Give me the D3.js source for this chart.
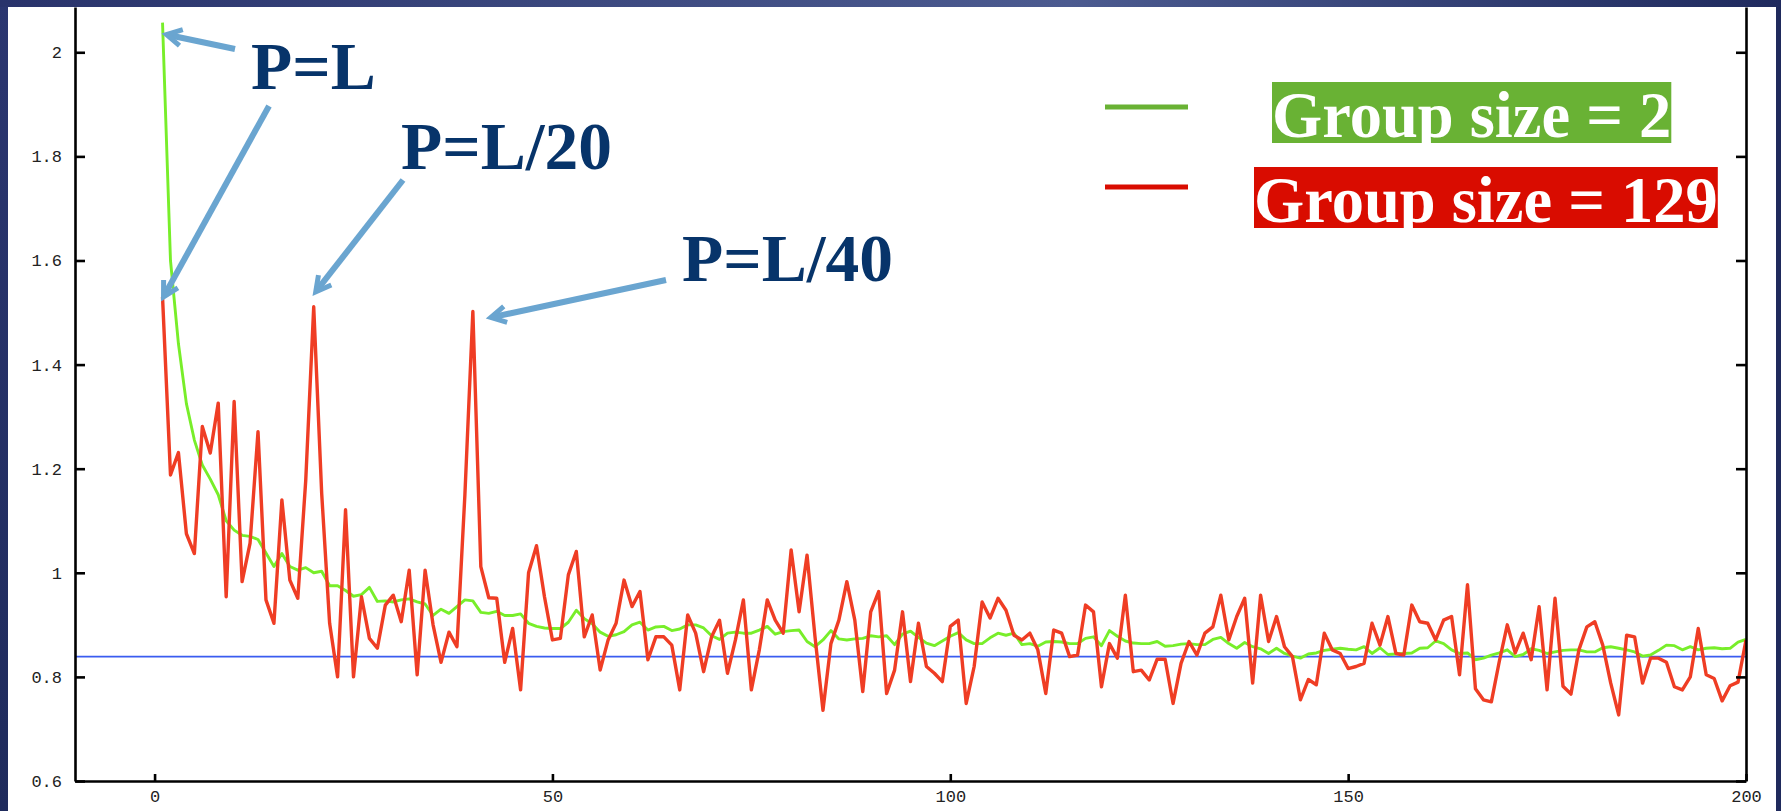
<!DOCTYPE html>
<html>
<head>
<meta charset="utf-8">
<script src="https://cdn.jsdelivr.net/npm/d3@7/dist/d3.min.js"></script>
<style>
  html, body { margin: 0; padding: 0; background: #1f2a5c; }
  svg { display: block; }
</style>
</head>
<body>
<svg id="chart" width="1781" height="811"></svg>
<script>
// ---- data ----
var yTicks = [0.6, 0.8, 1, 1.2, 1.4, 1.6, 1.8, 2];
var xTicks = [0, 50, 100, 150, 200];
var refLevel = 0.839;

// group size = 2  (green), x = 1..200
var group2 = [
  2.057, 1.60, 1.44, 1.325, 1.255, 1.207, 1.180, 1.150, 1.100, 1.082,
  1.072, 1.070, 1.064, 1.038, 1.012, 1.037, 1.012, 1.005, 1.010, 1.000,
  1.003, 0.975, 0.975, 0.966, 0.955, 0.958, 0.972, 0.945, 0.946, 0.944,
  0.948, 0.950, 0.944, 0.940, 0.918, 0.930, 0.922, 0.935, 0.948, 0.946,
  0.924, 0.922, 0.926, 0.918, 0.918, 0.921, 0.903, 0.897, 0.894, 0.893,
  0.893, 0.905, 0.928, 0.912, 0.902, 0.886, 0.878, 0.881, 0.887, 0.900,
  0.905, 0.890, 0.896, 0.897, 0.889, 0.892, 0.900, 0.900, 0.894, 0.879,
  0.872, 0.884, 0.886, 0.884, 0.884, 0.890, 0.897, 0.882, 0.887, 0.889,
  0.890, 0.868, 0.858, 0.871, 0.889, 0.873, 0.871, 0.873, 0.874, 0.879,
  0.877, 0.879, 0.862, 0.882, 0.888, 0.876, 0.865, 0.860, 0.869, 0.878,
  0.885, 0.871, 0.864, 0.864, 0.875, 0.884, 0.880, 0.884, 0.862, 0.864,
  0.859, 0.867, 0.868, 0.867, 0.864, 0.864, 0.874, 0.877, 0.860, 0.889,
  0.878, 0.869, 0.865, 0.864, 0.864, 0.868, 0.859, 0.860, 0.863, 0.864,
  0.862, 0.862, 0.872, 0.876, 0.864, 0.855, 0.866, 0.858, 0.854, 0.845,
  0.855, 0.845, 0.840, 0.836, 0.844, 0.846, 0.851, 0.853, 0.855, 0.853,
  0.852, 0.858, 0.845, 0.856, 0.843, 0.844, 0.845, 0.846, 0.855, 0.856,
  0.869, 0.864, 0.852, 0.845, 0.846, 0.833, 0.836, 0.842, 0.846, 0.852,
  0.839, 0.843, 0.854, 0.851, 0.845, 0.848, 0.851, 0.852, 0.852, 0.848,
  0.848, 0.856, 0.858, 0.855, 0.852, 0.848, 0.840, 0.842, 0.851, 0.861,
  0.860, 0.852, 0.858, 0.852, 0.855, 0.856, 0.854, 0.855, 0.867, 0.872
];

// group size = 129 (red), x = 1..200
var group129 = [
  1.530, 1.188, 1.231, 1.075, 1.037, 1.281, 1.230, 1.326, 0.954, 1.329,
  0.983, 1.057, 1.271, 0.948, 0.903, 1.140, 0.986, 0.951, 1.178, 1.511,
  1.153, 0.903, 0.800, 1.121, 0.800, 0.954, 0.874, 0.855, 0.938, 0.957,
  0.906, 1.005, 0.804, 1.005, 0.900, 0.828, 0.886, 0.858, 1.150, 1.502,
  1.012, 0.952, 0.951, 0.828, 0.893, 0.775, 1.000, 1.052, 0.954, 0.871,
  0.874, 0.996, 1.041, 0.877, 0.919, 0.813, 0.871, 0.903, 0.986, 0.935,
  0.964, 0.833, 0.877, 0.877, 0.861, 0.775, 0.919, 0.884, 0.810, 0.877,
  0.909, 0.807, 0.871, 0.948, 0.775, 0.852, 0.948, 0.909, 0.884, 1.044,
  0.925, 1.034, 0.877, 0.736, 0.864, 0.909, 0.983, 0.909, 0.772, 0.925,
  0.964, 0.768, 0.813, 0.925, 0.791, 0.903, 0.820, 0.807, 0.791, 0.897,
  0.909, 0.749, 0.820, 0.944, 0.913, 0.951, 0.928, 0.880, 0.871, 0.884,
  0.852, 0.768, 0.890, 0.884, 0.839, 0.842, 0.938, 0.925, 0.781, 0.864,
  0.836, 0.957, 0.810, 0.813, 0.794, 0.834, 0.834, 0.749, 0.826, 0.868,
  0.842, 0.884, 0.896, 0.957, 0.871, 0.916, 0.951, 0.788, 0.957, 0.868,
  0.916, 0.858, 0.839, 0.756, 0.795, 0.785, 0.884, 0.852, 0.845, 0.816,
  0.820, 0.826, 0.903, 0.861, 0.916, 0.845, 0.842, 0.938, 0.906, 0.903,
  0.871, 0.909, 0.916, 0.804, 0.977, 0.777, 0.756, 0.752, 0.830, 0.900,
  0.846, 0.884, 0.833, 0.935, 0.775, 0.951, 0.782, 0.767, 0.852, 0.896,
  0.906, 0.861, 0.788, 0.727, 0.880, 0.877, 0.788, 0.836, 0.836, 0.828,
  0.781, 0.775, 0.800, 0.893, 0.804, 0.797, 0.754, 0.783, 0.790, 0.871
];

var legendLabels = ["Group size = 2", "Group size = 129"];

// ---- layout ----
var W = 1781, H = 811;
var plot = { left: 75, right: 1746, top: 7, bottom: 781 };
var greenCol = "#78ee2a", redCol = "#ef3d24", blueCol = "#3a5cf0";
var navy = "#07346a", arrowCol = "#6aa5d0";

var svg = d3.select("#chart");

// slide frame
var defs = svg.append("defs");
var grad = defs.append("linearGradient").attr("id", "topband");
grad.append("stop").attr("offset", "0%").attr("stop-color", "#29336b");
grad.append("stop").attr("offset", "60%").attr("stop-color", "#4c5b90");
grad.append("stop").attr("offset", "100%").attr("stop-color", "#1f2a5e");
var gradL = defs.append("linearGradient").attr("id", "leftband")
    .attr("x1", 0).attr("y1", 0).attr("x2", 0).attr("y2", 1);
gradL.append("stop").attr("offset", "0%").attr("stop-color", "#2b3670");
gradL.append("stop").attr("offset", "100%").attr("stop-color", "#1f2b5c");

svg.append("rect").attr("width", W).attr("height", H).attr("fill", "#1f2a5c");
svg.append("rect").attr("x", 0).attr("y", 0).attr("width", 8).attr("height", H).attr("fill", "url(#leftband)");
svg.append("rect").attr("x", 0).attr("y", 0).attr("width", W).attr("height", 7).attr("fill", "url(#topband)");
svg.append("rect").attr("x", 8).attr("y", 7).attr("width", 1768).attr("height", H - 7).attr("fill", "#fff");

defs.append("clipPath").attr("id", "plotclip")
  .append("rect")
    .attr("x", plot.left).attr("y", plot.top)
    .attr("width", plot.right - plot.left).attr("height", plot.bottom - plot.top);

// scales
var x = d3.scaleLinear().domain([-10, 200]).range([plot.left, plot.right]);
var y = d3.scaleLinear().domain([0.6, 2.087]).range([plot.bottom, plot.top]);

var g = svg.append("g");

// reference level
g.append("line")
  .attr("x1", plot.left).attr("x2", plot.right)
  .attr("y1", y(refLevel)).attr("y2", y(refLevel))
  .attr("stroke", blueCol).attr("stroke-width", 1.6);

var lineGen = d3.line()
    .x(function(d, i){ return x(i + 1); })
    .y(function(d){ return y(d); });

var lines = g.append("g").attr("clip-path", "url(#plotclip)");
lines.append("path")
  .datum(group2)
  .attr("fill", "none")
  .attr("stroke", greenCol)
  .attr("stroke-width", 2.9)
  .attr("stroke-linejoin", "round")
  .attr("d", lineGen);
lines.append("path")
  .datum(group129)
  .attr("fill", "none")
  .attr("stroke", redCol)
  .attr("stroke-width", 3.4)
  .attr("stroke-linejoin", "round")
  .attr("d", lineGen);

// axes
function styleAxis(sel){
  sel.selectAll("path, line").attr("stroke", "#000").attr("stroke-width", 2.6);
  sel.selectAll("text")
    .attr("fill", "#222")
    .style("font-family", "'Liberation Mono', 'DejaVu Sans Mono', monospace")
    .style("font-size", "17px");
}
var fmt = d3.format("~g");

g.append("g")
  .attr("transform", "translate(" + plot.left + ",0)")
  .call(d3.axisLeft(y).tickValues(yTicks).tickFormat(fmt)
          .tickSizeInner(-10).tickSizeOuter(0).tickPadding(13))
  .call(styleAxis);

g.append("g")
  .attr("transform", "translate(" + plot.right + ",0)")
  .call(d3.axisRight(y).tickValues(yTicks).tickFormat("")
          .tickSizeInner(-10).tickSizeOuter(0))
  .call(styleAxis);

g.append("g")
  .attr("transform", "translate(0," + plot.bottom + ")")
  .call(d3.axisBottom(x).tickValues(xTicks).tickFormat(fmt)
          .tickSizeInner(-7).tickSizeOuter(0).tickPadding(9))
  .call(styleAxis);

// legend
var legend = [
  { label: legendLabels[0], color: "#69b234", lx: 1105, ly: 107, tx: 1272, ty: 137 },
  { label: legendLabels[1], color: "#d90c00", lx: 1105, ly: 187, tx: 1254, ty: 222 }
];
legend.forEach(function(l){
  g.append("line")
    .attr("x1", l.lx).attr("x2", l.lx + 83)
    .attr("y1", l.ly).attr("y2", l.ly)
    .attr("stroke", l.color)
    .attr("stroke-width", 5);
  var box = g.append("rect").attr("fill", l.color);
  var t = g.append("text")
    .attr("x", l.tx).attr("y", l.ty)
    .attr("fill", "#fff")
    .style("font-family", "'Liberation Serif', 'Times New Roman', serif")
    .style("font-weight", "bold")
    .style("font-size", "64.5px")
    .text(l.label);
  var bb = t.node().getBBox();
  box.attr("x", l.tx).attr("y", l.ty - 55)
     .attr("width", bb.width).attr("height", 61);
});

// annotations: arrow tips anchored to data points
var notes = [
  { text: "P=L",    tx: 251, ty: 89,  arrows: [
      { sx: 235, sy: 49,  series: group2,   i: 0,  dx: 4,  dy: 12 },
      { sx: 269, sy: 106, series: group129, i: 0,  dx: 1,  dy: 0 } ] },
  { text: "P=L/20", tx: 401, ty: 169, arrows: [
      { sx: 403, sy: 180, series: group129, i: 19, dx: 2,  dy: -15 } ] },
  { text: "P=L/40", tx: 682, ty: 281, arrows: [
      { sx: 666, sy: 280, series: group129, i: 39, dx: 18, dy: 6 } ] }
];

function drawArrow(sx, sy, ex, ey){
  var ang = Math.atan2(ey - sy, ex - sx);
  var len = 17, spread = 0.5;
  g.append("line")
    .attr("x1", sx).attr("y1", sy)
    .attr("x2", ex - Math.cos(ang) * 3).attr("y2", ey - Math.sin(ang) * 3)
    .attr("stroke", arrowCol).attr("stroke-width", 6);
  var p1 = [ex - len * Math.cos(ang - spread), ey - len * Math.sin(ang - spread)];
  var p2 = [ex - len * Math.cos(ang + spread), ey - len * Math.sin(ang + spread)];
  g.append("path")
    .attr("d", "M" + p1 + "L" + [ex, ey] + "L" + p2)
    .attr("fill", "none")
    .attr("stroke", arrowCol).attr("stroke-width", 5)
    .attr("stroke-linejoin", "miter");
}

notes.forEach(function(n){
  n.arrows.forEach(function(a){
    drawArrow(a.sx, a.sy, x(a.i + 1) + a.dx, y(a.series[a.i]) + a.dy);
  });
  g.append("text")
    .attr("x", n.tx).attr("y", n.ty)
    .attr("fill", navy)
    .style("font-family", "'Liberation Serif', 'Times New Roman', serif")
    .style("font-weight", "bold")
    .style("font-size", "67.5px")
    .text(n.text);
});
</script>
</body>
</html>
